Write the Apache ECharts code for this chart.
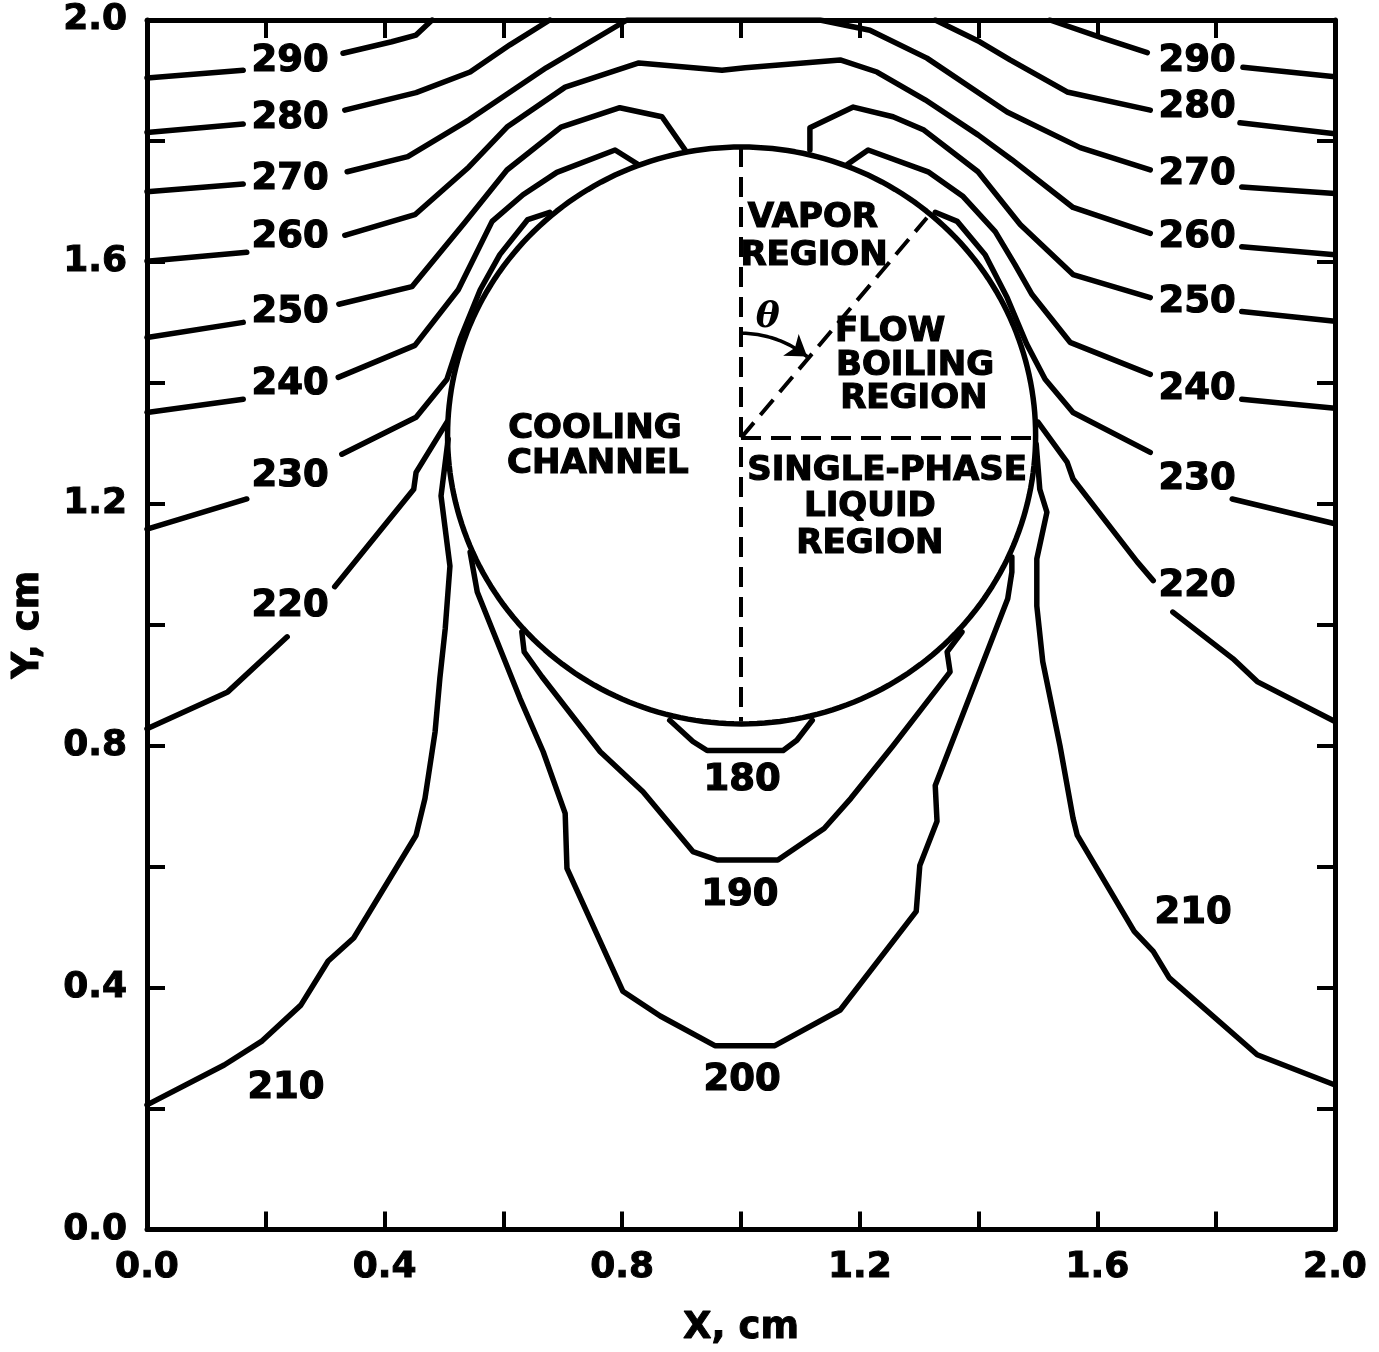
<!DOCTYPE html>
<html><head><meta charset="utf-8">
<script src="https://cdn.jsdelivr.net/npm/echarts@6.0.0/dist/echarts.min.js"></script>
<style>html,body{margin:0;padding:0;background:#fff}#c{width:1379px;height:1352px}</style>
</head><body><div id="c"></div>
<script>
// ---- contour data (x, y in cm), each contour split into segments at label gaps ----
const c290 = [
  [[0,1.904],[0.162,1.917]],
  [[0.330,1.945],[0.412,1.964],[0.453,1.975],[0.480,2.0]],
  [[1.520,2.0],[1.609,1.970],[1.684,1.946]],
  [[1.845,1.922],[2.0,1.906]]
];
const c280 = [
  [[0,1.814],[0.162,1.828]],
  [[0.333,1.851],[0.453,1.880],[0.544,1.914],[0.611,1.959],[0.678,2.0]],
  [[1.327,2.0],[1.402,1.964],[1.453,1.934],[1.549,1.881],[1.689,1.851]],
  [[1.840,1.830],[2.0,1.812]]
];
const c270 = [
  [[0,1.716],[0.162,1.729]],
  [[0.337,1.749],[0.439,1.774],[0.542,1.835],[0.672,1.921],[0.808,2.0],[1.133,2.0],[1.217,1.983],[1.313,1.937],[1.448,1.848],[1.571,1.789],[1.689,1.752]],
  [[1.843,1.724],[2.0,1.713]]
];
const c260 = [
  [[0,1.601],[0.168,1.616]],
  [[0.333,1.644],[0.451,1.678],[0.542,1.757],[0.606,1.823],[0.704,1.889],[0.828,1.929],[0.968,1.917],[1.007,1.921],[1.167,1.934],[1.229,1.914],[1.310,1.868],[1.399,1.810],[1.456,1.769],[1.559,1.690],[1.689,1.647]],
  [[1.843,1.625],[2.0,1.612]]
];
const c250 = [
  [[0,1.475],[0.162,1.500]],
  [[0.323,1.530],[0.446,1.559],[0.535,1.665],[0.606,1.752],[0.697,1.823],[0.796,1.855],[0.867,1.840],[0.906,1.785]],
  [[1.116,1.785],[1.116,1.822],[1.189,1.856],[1.256,1.840],[1.308,1.818],[1.399,1.749],[1.470,1.662],[1.559,1.579],[1.689,1.541]],
  [[1.843,1.518],[2.0,1.502]]
];
const c240 = [
  [[0,1.351],[0.162,1.373]],
  [[0.322,1.409],[0.451,1.462],[0.524,1.554],[0.581,1.667],[0.633,1.711],[0.690,1.748],[0.788,1.785],[0.827,1.761]],
  [[1.180,1.762],[1.214,1.785],[1.315,1.749],[1.374,1.708],[1.428,1.650],[1.461,1.596],[1.490,1.546],[1.554,1.467],[1.689,1.414]],
  [[1.843,1.373],[2.0,1.358]]
];
const c230 = [
  [[0,1.158],[0.168,1.208]],
  [[0.328,1.282],[0.453,1.343],[0.505,1.406],[0.527,1.472],[0.561,1.554],[0.594,1.612],[0.641,1.670],[0.678,1.682]],
  [[1.327,1.682],[1.364,1.667],[1.411,1.612],[1.448,1.541],[1.481,1.464],[1.512,1.406],[1.559,1.351],[1.689,1.285]],
  [[1.827,1.208],[2.0,1.167]]
];
const c220 = [
  [[0,0.828],[0.136,0.889],[0.236,0.980]],
  [[0.316,1.063],[0.449,1.224],[0.453,1.252],[0.505,1.335]],
  [[1.500,1.335],[1.549,1.269],[1.559,1.241],[1.667,1.104],[1.694,1.073]],
  [[1.727,1.021],[1.828,0.944],[1.869,0.906],[2.0,0.840]]
];
const c210 = [
  [[0.507,1.307],[0.495,1.213],[0.510,1.097],[0.502,0.993],[0.493,0.911],[0.485,0.823],[0.468,0.713],[0.453,0.652],[0.348,0.482],[0.305,0.444],[0.259,0.371],[0.194,0.312],[0.130,0.272],[0,0.206]],
  [[1.497,1.299],[1.503,1.224],[1.515,1.186],[1.498,1.109],[1.498,1.031],[1.508,0.939],[1.537,0.800],[1.559,0.680],[1.566,0.652],[1.662,0.493],[1.694,0.460],[1.721,0.416],[1.869,0.289],[2.0,0.239]]
];
const c200 = [
  [[0.544,1.120],[0.556,1.054],[0.628,0.878],[0.667,0.790],[0.695,0.713],[0.704,0.688],[0.707,0.597],[0.801,0.394],[0.864,0.353],[0.956,0.304],[1.057,0.304],[1.167,0.363],[1.295,0.526],[1.301,0.602],[1.330,0.675],[1.327,0.734],[1.449,1.043],[1.456,1.087],[1.456,1.112]]
];
const c190 = [
  [[0.631,0.988],[0.635,0.955],[0.665,0.914],[0.763,0.790],[0.835,0.724],[0.919,0.625],[0.960,0.611],[1.062,0.611],[1.140,0.663],[1.185,0.713],[1.256,0.800],[1.330,0.894],[1.352,0.922],[1.347,0.955],[1.372,0.988]]
];
const c180 = [
  [[0.880,0.842],[0.919,0.807],[0.943,0.792],[1.071,0.792],[1.094,0.809],[1.120,0.842]]
];

// contour value labels: [x, y, text]
const contourLabels = [
  [0.241,1.931,'290'],[0.241,1.838,'280'],[0.241,1.736,'270'],[0.241,1.640,'260'],
  [0.241,1.517,'250'],[0.241,1.398,'240'],[0.241,1.246,'230'],[0.241,1.030,'220'],
  [0.234,0.234,'210'],
  [1.768,1.931,'290'],[1.768,1.855,'280'],[1.768,1.744,'270'],[1.768,1.640,'260'],
  [1.768,1.533,'250'],[1.768,1.389,'240'],[1.768,1.241,'230'],[1.768,1.063,'220'],
  [1.761,0.523,'210'],
  [1.002,0.743,'180'],[0.998,0.553,'190'],[1.002,0.246,'200']
];

// region annotations: [x, y, text]
const regionText = [
  [0.754,1.323,'COOLING'],[0.759,1.266,'CHANNEL'],
  [1.121,1.673,'VAPOR'],[1.123,1.609,'REGION'],
  [1.251,1.483,'FLOW'],[1.293,1.427,'BOILING'],[1.291,1.373,'REGION'],
  [1.246,1.254,'SINGLE-PHASE'],[1.217,1.195,'LIQUID'],[1.217,1.134,'REGION']
];
const thetaText = [[1.045,1.508,'θ']];

// channel geometry (cm)
const channelCenter = [1.001, 1.313];
const channelRadius = [0.495, 0.477];
const dividerV = [[1.0,1.790],[1.0,0.840]];
const dividerH = [[1.0,1.309],[1.497,1.309]];
const dividerD = [[1.0,1.309],[1.313,1.673]];
const thetaArc = {center:[1.0,1.309], radius:[0.177,0.173], fromDeg:0, toDeg:39};

const ticks = [0,0.4,0.8,1.2,1.6,2.0];

// ---- build ----
const contours = [c290,c280,c270,c260,c250,c240,c230,c220,c210,c200,c190,c180];
const series = [];
const lineBase = {type:'line', showSymbol:false, symbol:'none', silent:true, animation:false, z:3,
  lineStyle:{color:'#000', width:5.5, cap:'round', join:'round'}};
contours.forEach(c => c.forEach(seg => series.push(Object.assign({}, lineBase, {data:seg}))));

const circlePts = [];
for (let i = 0; i <= 240; i++) {
  const a = i / 240 * Math.PI * 2;
  circlePts.push([channelCenter[0] + channelRadius[0]*Math.cos(a), channelCenter[1] + channelRadius[1]*Math.sin(a)]);
}
series.push(Object.assign({}, lineBase, {data:circlePts, lineStyle:{color:'#000', width:5.5}}));

const dashStyle = {color:'#000', width:4, type:[20,10]};
[dividerV, dividerH, dividerD].forEach(d => series.push(Object.assign({}, lineBase, {data:d, lineStyle:dashStyle, z:2})));

const arcPts = [];
for (let i = 0; i <= 30; i++) {
  const a = (thetaArc.fromDeg + (thetaArc.toDeg - thetaArc.fromDeg) * i / 30) * Math.PI / 180;
  arcPts.push([thetaArc.center[0] + thetaArc.radius[0]*Math.sin(a), thetaArc.center[1] + thetaArc.radius[1]*Math.cos(a)]);
}
series.push(Object.assign({}, lineBase, {data:arcPts, lineStyle:{color:'#000', width:3.5}, z:4}));
series.push({type:'lines', coordinateSystem:'cartesian2d', silent:true, animation:false, z:5,
  data:[{coords:[arcPts[arcPts.length-6], arcPts[arcPts.length-1]]}],
  symbol:['none','arrow'], symbolSize:[1,20],
  lineStyle:{color:'#000', width:3.5, opacity:1, curveness:0}, itemStyle:{color:'#000'}});

const txt = {fontFamily:'DejaVu Sans', fontWeight:'bold', color:'#000', opacity:1, textBorderColor:'#000', textBorderWidth:1.2,
  position:[0,0], align:'center', verticalAlign:'middle'};
const scatterBase = {type:'scatter', symbolSize:0, silent:true, animation:false, z:6, itemStyle:{opacity:1, color:'#000'}};
series.push(Object.assign({}, scatterBase, {data:contourLabels,
  label:Object.assign({show:true, formatter:p=>p.data[2], fontSize:37}, txt)}));
series.push(Object.assign({}, scatterBase, {data:regionText,
  label:Object.assign({show:true, formatter:p=>p.data[2], fontSize:34}, txt)}));
series.push(Object.assign({}, scatterBase, {data:thetaText,
  label:{show:true, position:[0,0], align:'center', verticalAlign:'middle', formatter:p=>p.data[2], fontSize:36, opacity:1,
    fontFamily:'DejaVu Serif', fontStyle:'italic', fontWeight:'bold', color:'#000'}}));

const fmt = v => { const r = Math.round(v*10)/10; return ticks.some(t => Math.abs(t-r) < 1e-6) ? r.toFixed(1) : ''; };
const axisCommon = {type:'value', min:0, max:2, interval:0.2,
  axisLine:{show:true, onZero:false, lineStyle:{color:'#000', width:5}},
  axisTick:{show:true, inside:true, length:18, lineStyle:{color:'#000', width:4}},
  splitLine:{show:false}};
const labelStyle = {show:true, formatter:fmt, fontSize:36, margin:20, showMinLabel:true, showMaxLabel:true,
  fontFamily:'DejaVu Sans', fontWeight:'bold', color:'#000', textBorderColor:'#000', textBorderWidth:1};
const nameStyle = {fontFamily:'DejaVu Sans', fontWeight:'bold', fontSize:37, color:'#000', textBorderColor:'#000', textBorderWidth:1};

const option = {
  backgroundColor:'#fff',
  animation:false,
  grid:{left:147, right:44, top:20, bottom:120, containLabel:false},
  xAxis:[
    Object.assign({}, axisCommon, {position:'bottom', axisLabel:labelStyle,
      name:'X, cm', nameLocation:'middle', nameGap:80, nameTextStyle:nameStyle}),
    Object.assign({}, axisCommon, {position:'top', axisLabel:{show:false}})
  ],
  yAxis:[
    Object.assign({}, axisCommon, {position:'left', axisLabel:labelStyle,
      name:'Y, cm', nameLocation:'middle', nameGap:100, nameRotate:90, nameTextStyle:nameStyle}),
    Object.assign({}, axisCommon, {position:'right', axisLabel:{show:false}})
  ],
  series:series
};
const chart = echarts.init(document.getElementById('c'));
chart.setOption(option);
</script></body></html>
